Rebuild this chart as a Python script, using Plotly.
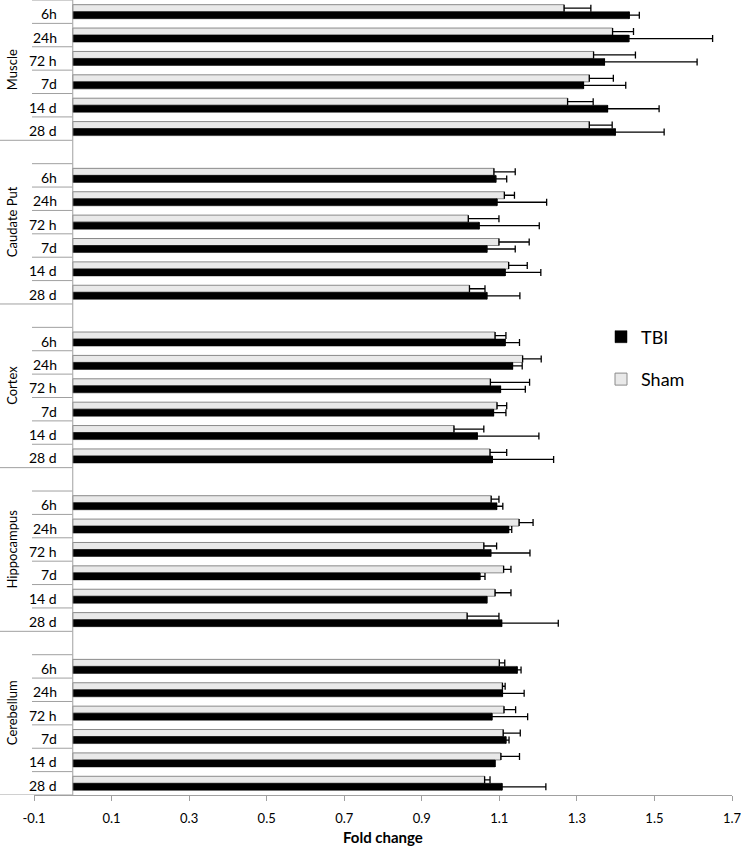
import plotly.graph_objects as go

# ---------------- data ----------------
tissues = ["Muscle", "Caudate Put", "Cortex", "Hippocampus", "Cerebellum"]
timepoints = ["6h", "24h", "72 h", "7d", "14 d", "28 d"]

sham_muscle = [1.267, 1.392, 1.343, 1.332, 1.276, 1.332]
sham_muscle_err = [0.069, 0.054, 0.108, 0.062, 0.066, 0.059]
tbi_muscle = [1.435, 1.434, 1.371, 1.317, 1.379, 1.399]
tbi_muscle_err = [0.026, 0.216, 0.239, 0.109, 0.133, 0.126]

sham_caudate = [1.086, 1.113, 1.020, 1.099, 1.124, 1.023]
sham_caudate_err = [0.055, 0.026, 0.079, 0.078, 0.048, 0.040]
tbi_caudate = [1.091, 1.094, 1.048, 1.068, 1.115, 1.068]
tbi_caudate_err = [0.028, 0.128, 0.155, 0.073, 0.092, 0.085]

sham_cortex = [1.089, 1.160, 1.077, 1.094, 0.983, 1.076]
sham_cortex_err = [0.028, 0.048, 0.101, 0.025, 0.077, 0.043]
tbi_cortex = [1.115, 1.134, 1.103, 1.085, 1.043, 1.082]
tbi_cortex_err = [0.037, 0.025, 0.064, 0.032, 0.159, 0.158]

sham_hippo = [1.079, 1.151, 1.060, 1.111, 1.089, 1.017]
sham_hippo_err = [0.020, 0.036, 0.033, 0.019, 0.041, 0.082]
tbi_hippo = [1.093, 1.124, 1.078, 1.050, 1.068, 1.106]
tbi_hippo_err = [0.016, 0.008, 0.101, 0.013, 0.0, 0.146]

sham_cereb = [1.100, 1.108, 1.112, 1.110, 1.104, 1.062]
sham_cereb_err = [0.014, 0.007, 0.030, 0.044, 0.048, 0.014]
tbi_cereb = [1.146, 1.108, 1.081, 1.117, 1.089, 1.107]
tbi_cereb_err = [0.010, 0.056, 0.092, 0.008, 0.0, 0.113]

xtick_vals = [-0.1, 0.1, 0.3, 0.5, 0.7, 0.9, 1.1, 1.3, 1.5, 1.7]
xtick_text = ["-0.1", "0.1", "0.3", "0.5", "0.7", "0.9", "1.1", "1.3", "1.5", "1.7"]

sham_all = [sham_muscle, sham_caudate, sham_cortex, sham_hippo, sham_cereb]
sham_err_all = [sham_muscle_err, sham_caudate_err, sham_cortex_err, sham_hippo_err, sham_cereb_err]
tbi_all = [tbi_muscle, tbi_caudate, tbi_cortex, tbi_hippo, tbi_cereb]
tbi_err_all = [tbi_muscle_err, tbi_caudate_err, tbi_cortex_err, tbi_hippo_err, tbi_cereb_err]

# row index: each tissue block has 7 rows (one blank spacer before groups 2..5)
rows, sham_v, sham_e, tbi_v, tbi_e = [], [], [], [], []
for g in range(len(tissues)):
    for t in range(len(timepoints)):
        rows.append(7 * g + t)
        sham_v.append(sham_all[g][t]); sham_e.append(sham_err_all[g][t])
        tbi_v.append(tbi_all[g][t]); tbi_e.append(tbi_err_all[g][t])
n_rows = 7 * len(tissues) - 1

FONT = "Lato, 'Liberation Sans', sans-serif"
GRAY = "#a0a0a0"

fig = go.Figure()
fig.add_trace(go.Bar(
    y=rows, x=sham_v, orientation="h", name="Sham", legendgroup="sham", legendrank=2,
    marker=dict(color="#e9e9e9", line=dict(color="#8a8a8a", width=1)),
    error_x=dict(type="data", array=sham_e, arrayminus=[0] * len(sham_e),
                 symmetric=False, color="#000000", thickness=1.3, width=3.5),
))
fig.add_trace(go.Bar(
    y=rows, x=tbi_v, orientation="h", name="TBI", legendgroup="tbi", legendrank=1,
    marker=dict(color="#000000", line=dict(color="#000000", width=0.5)),
    error_x=dict(type="data", array=tbi_e, arrayminus=[0] * len(tbi_e),
                 symmetric=False, color="#000000", thickness=1.3, width=3.5),
))

# plot geometry (pixels) for label placement
L, R, T, B = 34, 9, 0, 51
W, H = 741, 846
pw = W - L - R

def px_to_paper(px):
    return (px - L) / pw

shapes = []
annotations = []
# category axis line crossing at x = 0
shapes.append(dict(type="line", xref="x", yref="paper", x0=0, x1=0, y0=0, y1=1,
                   line=dict(color=GRAY, width=1)))
for g, name in enumerate(tissues):
    first = 7 * g
    for t, lab in enumerate(timepoints):
        r = first + t
        shapes.append(dict(type="line", xref="paper", yref="y",
                           x0=px_to_paper(32), x1=px_to_paper(72.4),
                           y0=r - 0.5, y1=r - 0.5, line=dict(color=GRAY, width=1)))
        annotations.append(dict(xref="paper", yref="y", x=px_to_paper(59), y=r,
                                text=lab, showarrow=False, xanchor="right", yanchor="middle",
                                yshift=-2, font=dict(family=FONT, size=14, color="#000")))
    sep = first + len(timepoints) - 0.5
    shapes.append(dict(type="line", xref="paper", yref="y",
                       x0=px_to_paper(0), x1=px_to_paper(72.4), y0=sep, y1=sep,
                       line=dict(color=GRAY, width=1)))
    center = (first - (1 if g > 0 else 0) + first + len(timepoints) - 1) / 2
    annotations.append(dict(xref="paper", yref="y", x=px_to_paper(12), y=center,
                            text=name, showarrow=False, textangle=-90,
                            xanchor="center", yanchor="middle",
                            font=dict(family=FONT, size=13, color="#000")))

annotations.append(dict(xref="paper", yref="paper", x=0.5, y=-42 / (H - T - B),
                        text="<b>Fold change</b>", showarrow=False,
                        xanchor="center", yanchor="middle",
                        font=dict(family=FONT, size=15, color="#000")))

fig.update_layout(
    width=W, height=H,
    margin=dict(l=L, r=R, t=T, b=B),
    paper_bgcolor="white", plot_bgcolor="white",
    barmode="group", bargap=0.4, bargroupgap=0,
    font=dict(family=FONT, color="#000"),
    shapes=shapes, annotations=annotations,
    showlegend=True,
    legend=dict(x=px_to_paper(601), y=1 - 358 / (H - T - B), xanchor="left", yanchor="middle",
                traceorder="grouped", tracegroupgap=16,
                font=dict(family=FONT, size=18, color="#000"),
                bgcolor="rgba(0,0,0,0)"),
    xaxis=dict(range=[-0.1, 1.7 + 1e-6], tickvals=xtick_vals, ticktext=xtick_text,
               showgrid=False, zeroline=False, showline=True, linecolor=GRAY, linewidth=1,
               ticks="outside", ticklen=5, tickcolor=GRAY, ticklabelstandoff=6,
               ticklabeloverflow="allow",
               tickfont=dict(family=FONT, size=13, color="#000")),
    yaxis=dict(range=[n_rows - 0.5, -0.5], showgrid=False, zeroline=False,
               showticklabels=False, ticks="", showline=False),
)

fig.write_html("out.html", config={"displayModeBar": False},
               post_script="document.body.style.margin='0';document.body.style.padding='0';")
